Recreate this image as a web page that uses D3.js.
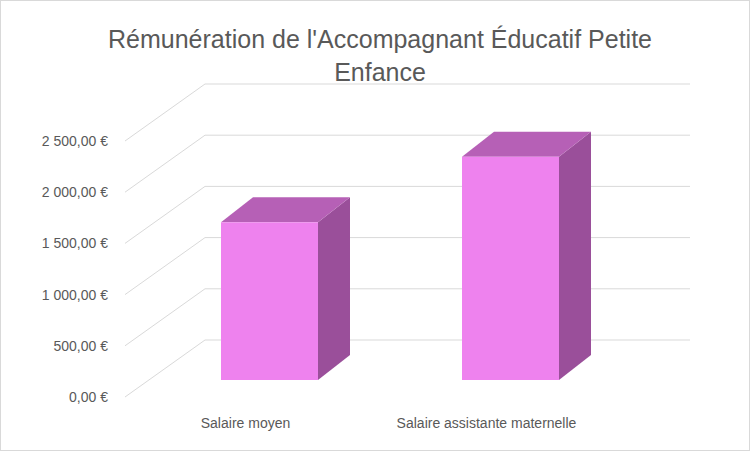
<!DOCTYPE html><html><head><meta charset="utf-8">
<script src="https://cdn.jsdelivr.net/npm/d3@7"></script>
<style>body{margin:0;background:#fff}</style></head><body>
<svg id="c" width="750" height="451"></svg>
<script>
const categories=["Salaire moyen","Salaire assistante maternelle"];
const values=[1540,2180];
const ticks=[0,500,1000,1500,2000,2500];
const titleLines=["Rémunération de l'Accompagnant Éducatif Petite","Enfance"];
const svg=d3.select("#c");
svg.append("rect").attr("x",0.5).attr("y",0.5).attr("width",749).attr("height",450).attr("fill","#fff").attr("stroke","#d9d9d9");
svg.selectAll(".t").data(titleLines).join("text").attr("x",380).attr("y",(d,i)=>48+i*33)
 .attr("text-anchor","middle").attr("font-family","Liberation Sans, Arial").attr("font-size",25).attr("fill","#595959").text(d=>d);
const y=d3.scaleLinear().domain([0,2500]).range([397,141]);
const x=d3.scaleBand().domain(categories).range([125,607]).paddingInner(0);
const BX=80,BY=-57,BACKR=690;
const g=svg.append("g");
ticks.forEach(t=>{
 g.append("polyline").attr("points",`${125},${y(t)} ${125+BX},${y(t)+BY} ${BACKR},${y(t)+BY}`)
  .attr("fill","none").attr("stroke","#d9d9d9").attr("stroke-width",1);
});
g.selectAll(".yl").data(ticks).join("text").attr("x",108).attr("y",d=>y(d)+5).attr("text-anchor","end")
 .attr("font-family","Liberation Sans, Arial").attr("font-size",14).attr("fill","#595959")
 .text(d=>d3.format(",.2f")(d).replace(/,/g," ").replace(".",",")+" €");
g.selectAll(".xl").data(categories).join("text").attr("x",d=>x(d)+x.bandwidth()/2).attr("y",428).attr("text-anchor","middle")
 .attr("font-family","Liberation Sans, Arial").attr("font-size",14).attr("fill","#595959").text(d=>d);
const PX=24,PY=-17,W=97,DX=32,DY=-25;
categories.forEach((c,i)=>{
 const x0=x(c)+x.bandwidth()/2-W/2+PX, x1=x0+W, yb=y(0)+PY, yt=y(values[i])+PY;
 g.append("polygon").attr("points",`${x1},${yt} ${x1+DX},${yt+DY} ${x1+DX},${yb+DY} ${x1},${yb}`).attr("fill","#9a4f9a");
 g.append("polygon").attr("points",`${x0},${yt} ${x0+DX},${yt+DY} ${x1+DX},${yt+DY} ${x1},${yt}`).attr("fill","#b660b6");
 g.append("rect").attr("x",x0).attr("y",yt).attr("width",W).attr("height",yb-yt).attr("fill","#ee82ee");
});
</script></body></html>
